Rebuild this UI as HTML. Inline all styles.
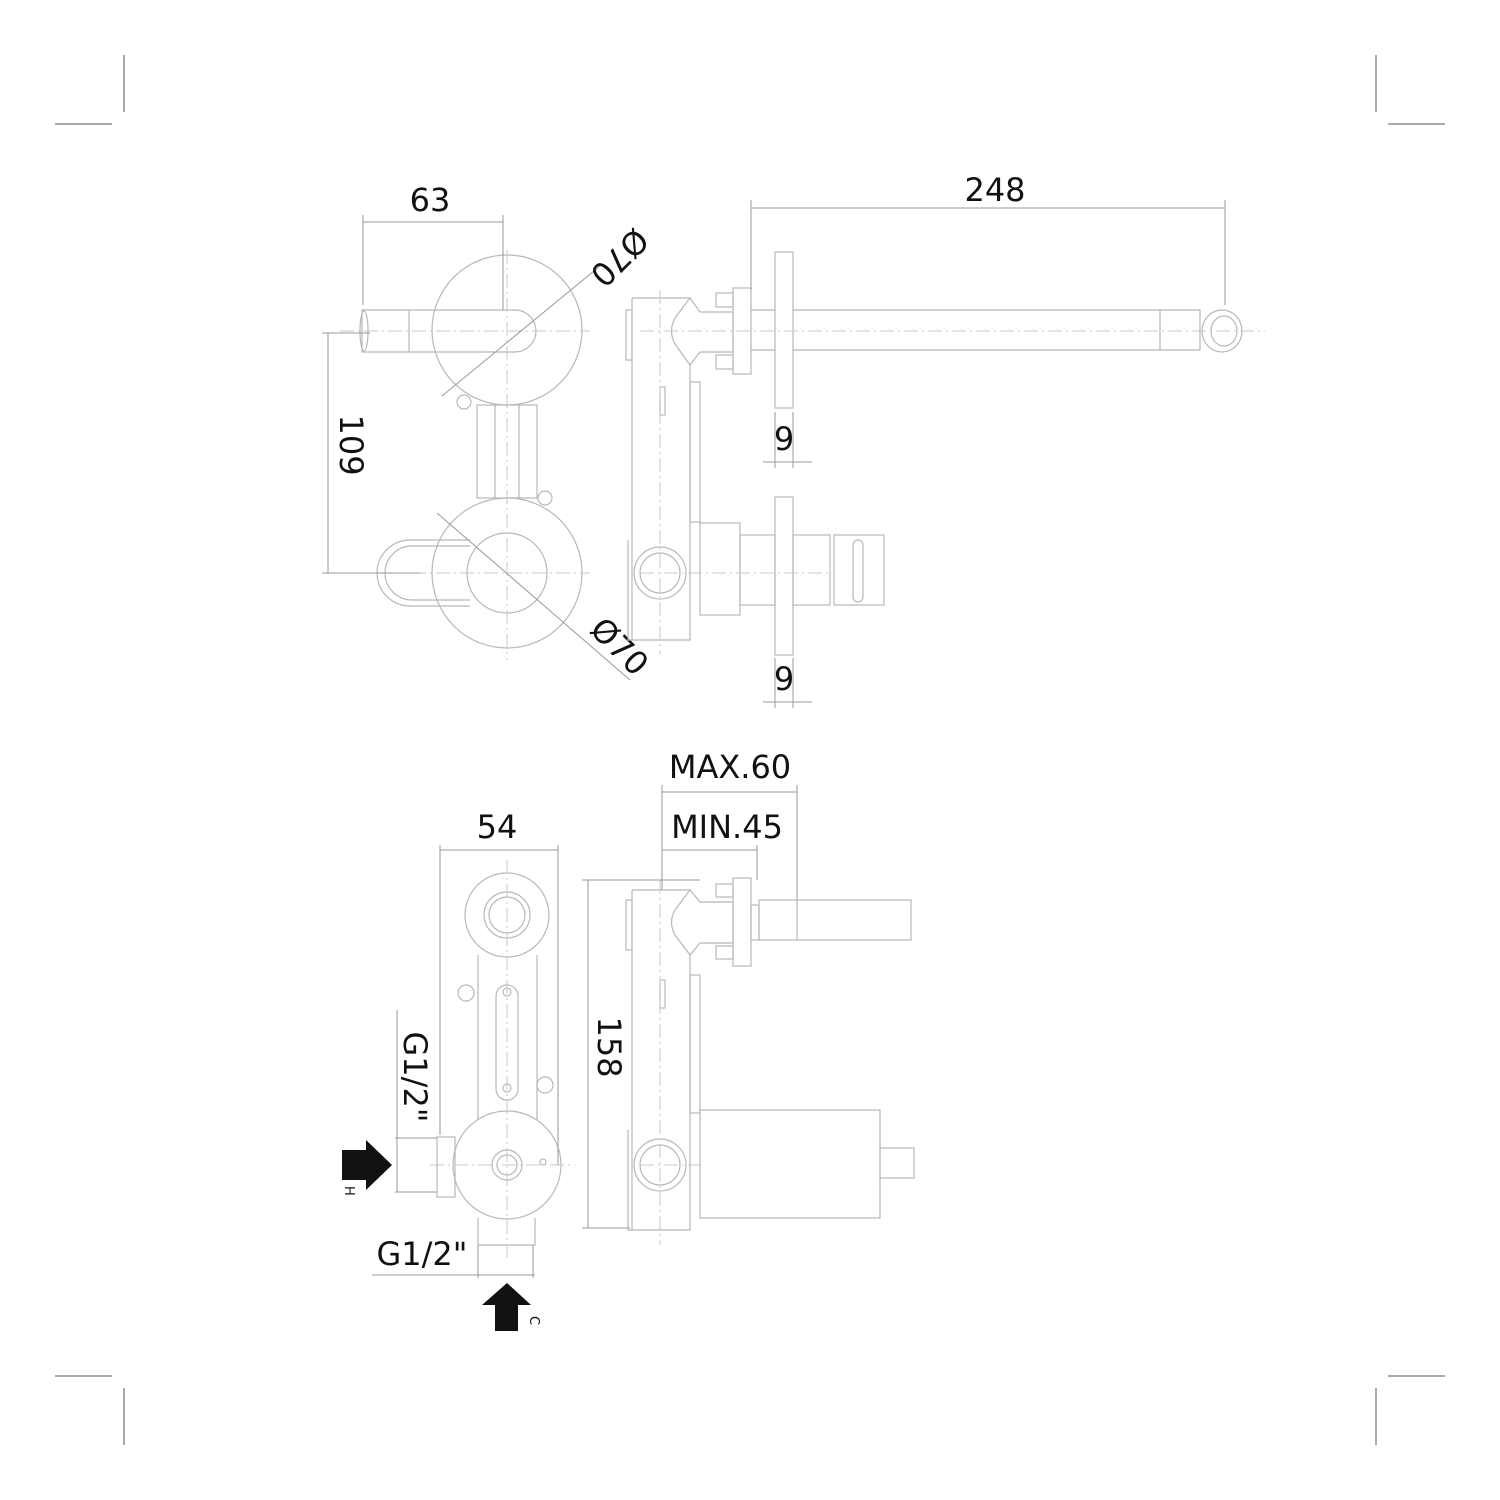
<!DOCTYPE html>
<html><head><meta charset="utf-8"><style>
html,body{margin:0;padding:0;background:#fff;}
svg{display:block;}
text{font-family:"DejaVu Sans","Liberation Sans",sans-serif;fill:#111;}
.l{stroke:#b8b8b8;stroke-width:1.2;fill:none;}
.t{stroke:#999;stroke-width:1;fill:none;}
.c{stroke:#c8c8c8;stroke-width:1;fill:none;stroke-dasharray:14 4 2 4;}
.k{stroke:#444;stroke-width:1;fill:none;}
</style></head><body>
<svg width="1500" height="1500" viewBox="0 0 1500 1500" xmlns="http://www.w3.org/2000/svg">
<!-- corner marks -->
<g stroke="#555" stroke-width="1">
<line x1="124" y1="55" x2="124" y2="112"/><line x1="55" y1="124" x2="112" y2="124"/>
<line x1="1376" y1="55" x2="1376" y2="112"/><line x1="1388" y1="124" x2="1445" y2="124"/>
<line x1="124" y1="1388" x2="124" y2="1445"/><line x1="55" y1="1376" x2="112" y2="1376"/>
<line x1="1376" y1="1388" x2="1376" y2="1445"/><line x1="1388" y1="1376" x2="1445" y2="1376"/>
</g>

<!-- TOP FRONT VIEW -->
<g class="l">
<circle cx="507" cy="330" r="75"/>
<circle cx="507" cy="573" r="75"/>
<path d="M362 310 H515 A21 21 0 0 1 515 352 H362 Z"/>
<line x1="409" y1="310" x2="409" y2="352"/>
<ellipse cx="364" cy="331" rx="4" ry="20"/>
<rect x="477" y="405" width="60" height="93"/>
<line x1="495" y1="405" x2="495" y2="498"/><line x1="519" y1="405" x2="519" y2="498"/>
<circle cx="507" cy="573" r="40"/>
<path d="M470 540 H410 A33 33 0 0 0 410 606 H470"/>
<path d="M470 546 H412 A27 27 0 0 0 412 600 H470"/>
<circle cx="464" cy="402" r="7"/><circle cx="545" cy="498" r="7"/>
</g>
<g class="c">
<line x1="340" y1="331" x2="590" y2="331"/><line x1="507" y1="250" x2="507" y2="660"/>
<line x1="340" y1="573" x2="590" y2="573"/>
</g>
<g class="t">
<line x1="442" y1="396" x2="600" y2="266"/>
<line x1="437" y1="513" x2="630" y2="680"/>
<line x1="363" y1="215" x2="363" y2="305"/><line x1="503" y1="215" x2="503" y2="310"/>
<line x1="363" y1="222" x2="503" y2="222"/>
<line x1="322" y1="333" x2="370" y2="333"/><line x1="322" y1="573" x2="420" y2="573"/>
<line x1="328" y1="333" x2="328" y2="573"/>
</g>
<text x="430" y="211" font-size="32" text-anchor="middle">63</text>
<text transform="translate(340,445) rotate(90)" font-size="32" text-anchor="middle">109</text>
<text transform="translate(618,256) rotate(135)" font-size="32" text-anchor="middle" dominant-baseline="middle">Ø70</text>
<text transform="translate(618,648) rotate(45)" font-size="32" text-anchor="middle" dominant-baseline="middle">Ø70</text>

<!-- TOP SIDE VIEW -->
<g class="l">
<path d="M632 298 H690 L675 318 Q668 331 675 344 L690 365 V520 H690"/>
<line x1="632" y1="298" x2="632" y2="640"/>
<rect x="626" y="310" width="6" height="50"/>
<path d="M690 298 L700 312 H733 V352 H700 L690 365"/>
<rect x="733" y="288" width="18" height="86"/>
<rect x="716" y="293" width="17" height="14"/><rect x="716" y="355" width="17" height="14"/>
<rect x="660" y="387" width="5" height="28"/>
<rect x="690" y="382" width="10" height="140"/>
<rect x="775" y="252" width="18" height="156"/>
<rect x="775" y="497" width="18" height="158"/>
<path d="M793 310 H1200 V350 H793"/>
<line x1="751" y1="310" x2="775" y2="310"/><line x1="751" y1="350" x2="775" y2="350"/>
<line x1="1160" y1="310" x2="1160" y2="350"/>
<ellipse cx="1222" cy="331" rx="20" ry="21"/><ellipse cx="1224" cy="331" rx="13" ry="15"/>
<circle cx="660" cy="573" r="26"/><circle cx="660" cy="573" r="20"/>
<path d="M628 540 V640 H690 V520"/>
<rect x="700" y="523" width="40" height="92"/>
<rect x="740" y="535" width="35" height="70"/>
<rect x="793" y="535" width="37" height="70"/>
<rect x="834" y="535" width="50" height="70"/>
<rect x="853" y="540" width="10" height="62" rx="5"/>
</g>
<g class="c">
<line x1="640" y1="331" x2="1265" y2="331"/><line x1="640" y1="573" x2="830" y2="573"/>
<line x1="660" y1="290" x2="660" y2="655"/>
</g>
<g class="t">
<line x1="751" y1="200" x2="751" y2="290"/><line x1="1225" y1="200" x2="1225" y2="305"/>
<line x1="751" y1="208" x2="1225" y2="208"/>
<line x1="763" y1="462" x2="812" y2="462"/><line x1="775" y1="412" x2="775" y2="468"/><line x1="793" y1="412" x2="793" y2="468"/>
<line x1="763" y1="702" x2="812" y2="702"/><line x1="775" y1="658" x2="775" y2="708"/><line x1="793" y1="658" x2="793" y2="708"/>
</g>
<text x="995" y="201" font-size="32" text-anchor="middle">248</text>
<text x="784" y="450" font-size="32" text-anchor="middle">9</text>
<text x="784" y="690" font-size="32" text-anchor="middle">9</text>

<!-- BOTTOM FRONT VIEW -->
<g class="l">
<circle cx="507" cy="915" r="42"/><circle cx="507" cy="915" r="23"/><circle cx="507" cy="915" r="18"/>
<path d="M478 955 V1120 M537 955 V1120"/>
<rect x="496" y="985" width="22" height="115" rx="11"/>
<circle cx="507" cy="992" r="4"/><circle cx="507" cy="1088" r="4"/>
<circle cx="466" cy="993" r="8"/><circle cx="545" cy="1085" r="8"/>
<ellipse cx="507" cy="1165" rx="54" ry="54"/>
<circle cx="507" cy="1165" r="15"/><circle cx="507" cy="1165" r="10"/>
<circle cx="543" cy="1162" r="3"/>
<rect x="437" y="1137" width="18" height="60"/>
<path d="M478 1218 V1245 H535 V1218"/>
</g>
<g class="c"><line x1="507" y1="860" x2="507" y2="1260"/><line x1="430" y1="1165" x2="575" y2="1165"/></g>
<g class="t">
<line x1="440" y1="845" x2="440" y2="1135"/><line x1="558" y1="845" x2="558" y2="1165"/>
<line x1="440" y1="850" x2="558" y2="850"/>
<line x1="395" y1="1138" x2="437" y2="1138"/><line x1="395" y1="1192" x2="437" y2="1192"/>
<line x1="397" y1="1010" x2="397" y2="1192"/>
<line x1="372" y1="1275" x2="535" y2="1275"/>
<line x1="478" y1="1245" x2="478" y2="1278"/><line x1="533" y1="1245" x2="533" y2="1278"/>
</g>
<text x="497" y="838" font-size="32" text-anchor="middle">54</text>
<text transform="translate(404,1077) rotate(90)" font-size="32" text-anchor="middle">G1/2"</text>
<text x="422" y="1265" font-size="32" text-anchor="middle">G1/2"</text>
<polygon points="342,1150 366,1150 366,1140 392,1165 366,1190 366,1180 342,1180" fill="#111"/>
<text transform="translate(345,1186) rotate(90)" font-size="13">H</text>
<polygon points="507,1283 531,1305 518,1305 518,1331 495,1331 495,1305 482,1305" fill="#111"/>
<text transform="translate(530,1316) rotate(90)" font-size="13">C</text>

<!-- BOTTOM SIDE VIEW -->
<g class="l">
<path d="M632 890 H690 L675 910 Q668 922 675 935 L690 955 V1110"/>
<line x1="632" y1="890" x2="632" y2="1230"/>
<rect x="626" y="900" width="6" height="50"/>
<path d="M690 890 L700 902 H733 V943 H700 L690 955"/>
<rect x="733" y="878" width="18" height="88"/>
<rect x="716" y="884" width="17" height="13"/><rect x="716" y="946" width="17" height="13"/>
<rect x="751" y="905" width="8" height="35"/>
<rect x="759" y="900" width="152" height="40"/><line x1="797" y1="900" x2="797" y2="940"/>
<rect x="660" y="980" width="5" height="28"/>
<rect x="690" y="975" width="10" height="138"/>
<circle cx="660" cy="1165" r="26"/><circle cx="660" cy="1165" r="20"/>
<path d="M628 1130 V1230 H690 V1110"/>
<rect x="700" y="1110" width="180" height="108"/>
<rect x="880" y="1148" width="34" height="30"/>
</g>
<g class="c"><line x1="660" y1="880" x2="660" y2="1245"/><line x1="640" y1="1165" x2="700" y2="1165"/></g>
<g class="t">
<line x1="662" y1="785" x2="662" y2="890"/><line x1="797" y1="785" x2="797" y2="900"/><line x1="757" y1="845" x2="757" y2="880"/>
<line x1="662" y1="792" x2="797" y2="792"/><line x1="662" y1="850" x2="757" y2="850"/>
<line x1="582" y1="880" x2="700" y2="880"/><line x1="582" y1="1228" x2="630" y2="1228"/>
<line x1="588" y1="880" x2="588" y2="1228"/>
</g>
<text x="730" y="778" font-size="32" text-anchor="middle">MAX.60</text>
<text x="727" y="838" font-size="32" text-anchor="middle">MIN.45</text>
<text transform="translate(598,1047) rotate(90)" font-size="32" text-anchor="middle">158</text>
</svg>
</body></html>
